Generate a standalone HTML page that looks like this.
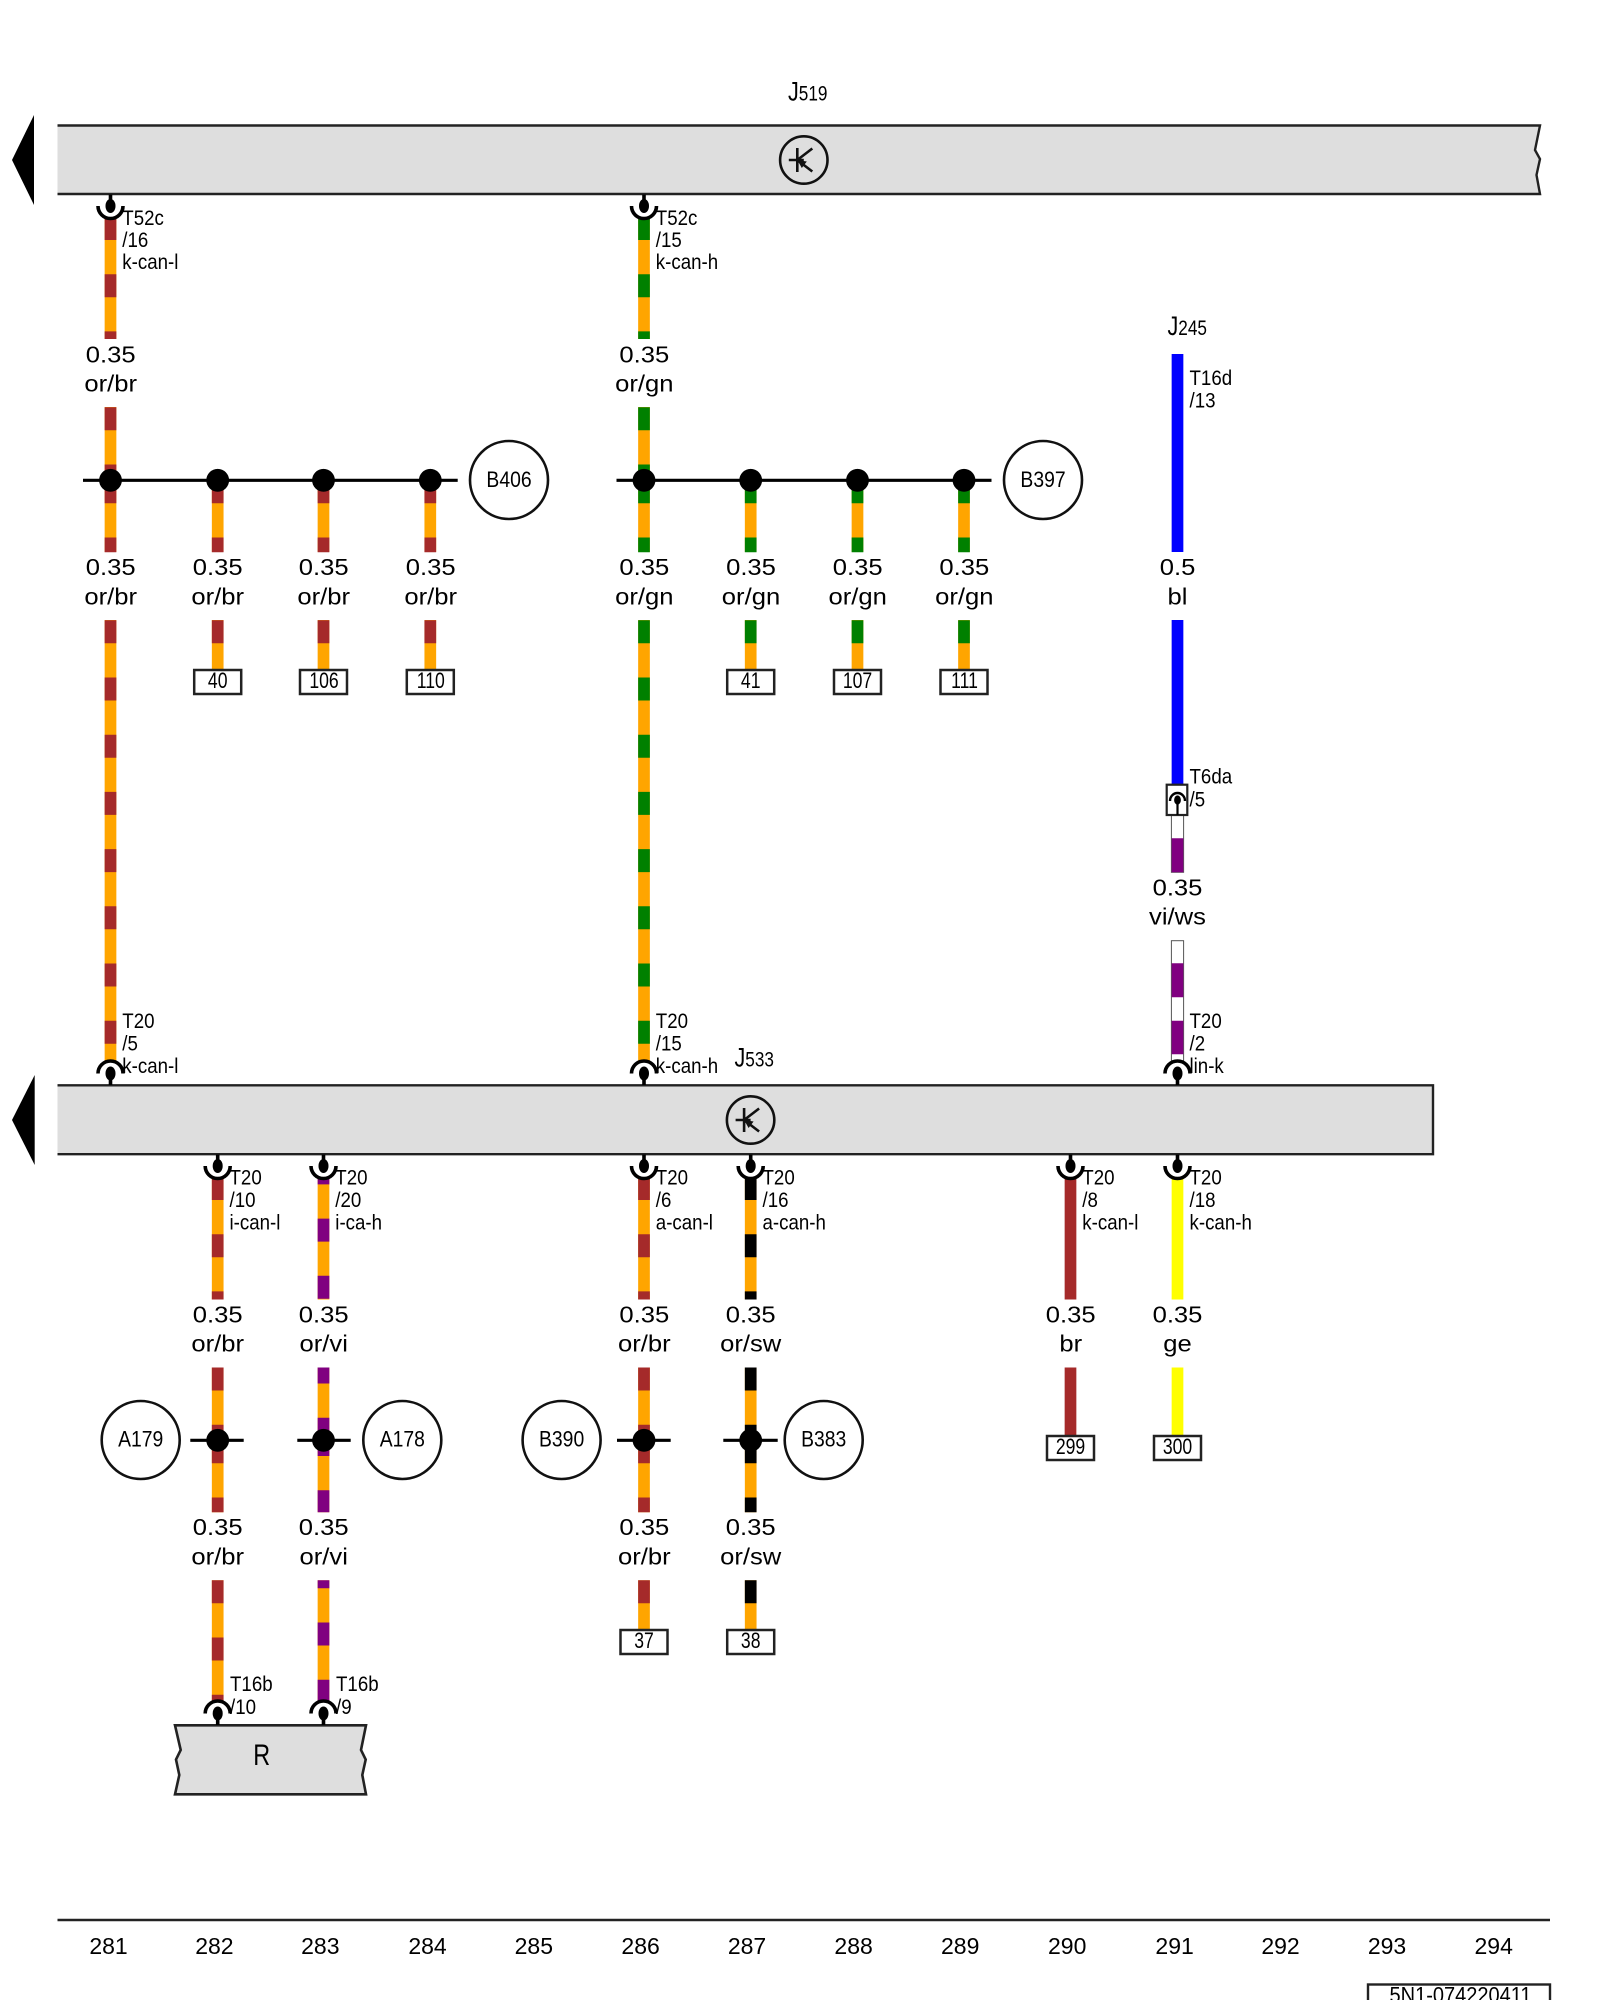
<!DOCTYPE html>
<html><head><meta charset="utf-8"><title>Wiring diagram</title>
<style>
html,body{margin:0;padding:0;background:#fff}
svg{display:block}
text{font-family:"Liberation Sans",sans-serif;fill:#000}
.s{font-size:21.5px}
.m{font-size:23.5px;text-anchor:middle}
.n{font-size:23px;text-anchor:middle}
.c{font-size:22px;text-anchor:middle}
.w{fill:none;stroke-width:11.7}
.d{stroke-dasharray:23 34.2}
.bar{fill:#dedede;stroke:none}
.edge{stroke:#222;stroke-width:2.4;fill:none}
.box{fill:#fff;stroke:#222;stroke-width:2.5}
.circ{fill:#fff;stroke:#111;stroke-width:2.6}
.jl{stroke:#000;stroke-width:3.2;fill:none}
</style></head>
<body>
<svg xmlns="http://www.w3.org/2000/svg" width="1600" height="2000" viewBox="0 0 1600 2000">
<defs>
<g id="c">
<path d="M0 0V14" stroke="#000" stroke-width="3.6" fill="none"/>
<ellipse cx="0" cy="11.5" rx="5" ry="7" fill="#000"/>
<path d="M-12.5 11.5A12.5 12.5 0 0 0 12.5 11.5" stroke="#000" stroke-width="3.6" fill="none"/>
</g>
<g id="t">
<circle cx="0" cy="0" r="23.7" fill="none" stroke="#111" stroke-width="2.6"/>
<path d="M-15 0H0M-6.5 -12V12M-6.5 0L8.5 -11.5M-6.5 0L8.5 11.5" stroke="#111" stroke-width="2.6" fill="none"/>
<path d="M-6.5 0L3 1.5L-2 8Z" fill="#111"/>
</g>
</defs>

<!-- top bar -->
<path d="M12 160L34 115V205Z" fill="#000"/>
<path class="bar" d="M57.5 125.5H1540L1535 150L1540 159L1536.5 175L1540 194H57.5Z"/>
<path class="edge" d="M57.5 125.5H1540L1535 150L1540 159L1536.5 175L1540 194H57.5"/>
<use href="#t" transform="translate(803.8 160)"/>
<g transform="translate(788 100.7) scale(.8 1)"><text class="s" font-size="22"><tspan style="font-size:27px">J</tspan>519</text></g>

<!-- middle bar -->
<path d="M12 1120L34.7 1075V1165Z" fill="#000"/>
<rect class="bar" x="57.5" y="1085.3" width="1375.5" height="68.9"/>
<path class="edge" d="M57.5 1085.3H1433V1154.2H57.5"/>
<use href="#t" transform="translate(750.6 1120)"/>
<g transform="translate(734.5 1066.5) scale(.8 1)"><text class="s"><tspan style="font-size:27px">J</tspan>533</text></g>
<g transform="translate(1167.5 335) scale(.8 1)"><text class="s"><tspan style="font-size:27px">J</tspan>245</text></g>

<!-- R bar -->
<path d="M175 1725.3H366L361 1750L365.7 1759.5L362.3 1775L366 1794.3H175L179.3 1775L176 1759.5L180.7 1750Z" fill="#dedede" stroke="#222" stroke-width="2.6"/>
<g transform="translate(261.7 1765) scale(.78 1)"><text font-size="30" text-anchor="middle">R</text></g>

<!-- wire bases -->
<path class="w" stroke="#ffa500" d="M110.5 217V339M110.5 407V552M110.5 620V1062M644 217V339M644 407V552M644 620V1062
M217.7 480V552M217.7 620V670M323.5 480V552M323.5 620V670M430.3 480V552M430.3 620V670
M750.7 480V552M750.7 620V670M857.5 480V552M857.5 620V670M964 480V552M964 620V670
M217.7 1177V1299.5M217.7 1367.5V1512.3M217.7 1580.3V1702
M323.5 1177V1299.5M323.5 1367.5V1512.3M323.5 1580.3V1702
M644 1177V1299.5M644 1367.5V1512.3M644 1580.3V1630
M750.7 1177V1299.5M750.7 1367.5V1512.3M750.7 1580.3V1630"/>

<!-- brown stripes -->
<path class="w d" stroke="#a52a2a" d="M110.5 217V339M110.5 407.3V480M110.5 480.3V552.3M110.5 620.3V1062
M217.7 480.3V552.3M217.7 620.3V670M323.5 480.3V552.3M323.5 620.3V670M430.3 480.3V552.3M430.3 620.3V670
M217.7 1177V1299.5M217.7 1367.5V1440M217.7 1440.3V1512.3M217.7 1580.3V1702
M644 1177V1299.5M644 1367.5V1440M644 1440.3V1512.3M644 1580.3V1630"/>
<!-- green stripes -->
<path class="w d" stroke="#008000" d="M644 217V339M644 407.3V480M644 480.3V552.3M644 620.3V1062
M750.7 480.3V552.3M750.7 620.3V670M857.5 480.3V552.3M857.5 620.3V670M964 480.3V552.3M964 620.3V670"/>
<!-- black stripes -->
<path class="w d" stroke="#000" d="M750.7 1177V1299.5M750.7 1367.5V1440M750.7 1440.3V1512.3M750.7 1580.3V1630"/>
<!-- purple stripes -->
<path class="w d" stroke="#800080" style="stroke-dashoffset:15.6" d="M323.5 1177V1299.5"/>
<path class="w d" stroke="#800080" style="stroke-dashoffset:7" d="M323.5 1367.5V1440"/>
<path class="w d" stroke="#800080" style="stroke-dashoffset:7.3" d="M323.5 1440.3V1512.3"/>
<path class="w d" stroke="#800080" style="stroke-dashoffset:15" d="M323.5 1580.3V1702"/>

<!-- solid wires -->
<path class="w" stroke="#0000ff" d="M1177.5 354V552M1177.5 620V785"/>
<path class="w" stroke="#a52a2a" d="M1070.5 1177V1299.5M1070.5 1367.5V1437"/>
<path class="w" stroke="#ffff00" d="M1177.5 1177V1299.5M1177.5 1367.5V1437"/>

<!-- vi/ws wires -->
<rect x="1171.4" y="815" width="12.2" height="57.3" fill="#fff" stroke="#555" stroke-width="1"/>
<path class="w" stroke="#800080" d="M1177.5 838.3V872.3"/>
<rect x="1171.4" y="940.7" width="12.2" height="121" fill="#fff" stroke="#555" stroke-width="1"/>
<path class="w" stroke="#800080" d="M1177.5 963.3V997.3M1177.5 1020.7V1054.3"/>

<!-- connectors -->
<use href="#c" transform="translate(110.5 194.5)"/>
<use href="#c" transform="translate(644 194.5)"/>
<use href="#c" transform="translate(110.5 1085) scale(1 -1)"/>
<use href="#c" transform="translate(644 1085) scale(1 -1)"/>
<use href="#c" transform="translate(1177.5 1085) scale(1 -1)"/>
<use href="#c" transform="translate(217.7 1154.5)"/>
<use href="#c" transform="translate(323.5 1154.5)"/>
<use href="#c" transform="translate(644 1154.5)"/>
<use href="#c" transform="translate(750.7 1154.5)"/>
<use href="#c" transform="translate(1070.5 1154.5)"/>
<use href="#c" transform="translate(1177.5 1154.5)"/>
<use href="#c" transform="translate(217.7 1725) scale(1 -1)"/>
<use href="#c" transform="translate(323.5 1725) scale(1 -1)"/>

<!-- T6da housing -->
<rect x="1166.7" y="784.7" width="20.6" height="30.3" fill="#fff" stroke="#222" stroke-width="2.2"/>
<path d="M1177.5 800V815" stroke="#000" stroke-width="2.2" fill="none"/>
<ellipse cx="1177.5" cy="800" rx="3.4" ry="4.6" fill="#000"/>
<path d="M1170 801A7.5 8 0 0 1 1185 801" stroke="#000" stroke-width="2.4" fill="none"/>

<!-- junctions -->
<path class="jl" d="M83 480.3H457.7M616.5 480.3H991.5M190.3 1440.3H243.7M297.3 1440.3H350.7M617 1440.3H670.7M723.3 1440.3H777.7"/>
<g fill="#000">
<circle cx="110.5" cy="480.3" r="11.4"/><circle cx="217.7" cy="480.3" r="11.4"/><circle cx="323.5" cy="480.3" r="11.4"/><circle cx="430.3" cy="480.3" r="11.4"/>
<circle cx="644" cy="480.3" r="11.4"/><circle cx="750.7" cy="480.3" r="11.4"/><circle cx="857.5" cy="480.3" r="11.4"/><circle cx="964" cy="480.3" r="11.4"/>
<circle cx="217.7" cy="1440.3" r="11.4"/><circle cx="323.5" cy="1440.3" r="11.4"/><circle cx="644" cy="1440.3" r="11.4"/><circle cx="750.7" cy="1440.3" r="11.4"/>
</g>

<!-- reference circles -->
<circle class="circ" cx="509" cy="480" r="39"/>
<circle class="circ" cx="1043" cy="480" r="39"/>
<circle class="circ" cx="140.7" cy="1440" r="39"/>
<circle class="circ" cx="402.3" cy="1440" r="39"/>
<circle class="circ" cx="561.6" cy="1440" r="39"/>
<circle class="circ" cx="823.7" cy="1440" r="39"/>
<g transform="translate(509 487) scale(.88 1)"><text class="c">B406</text></g>
<g transform="translate(1043 487) scale(.88 1)"><text class="c">B397</text></g>
<g transform="translate(140.7 1446.5) scale(.88 1)"><text class="c">A179</text></g>
<g transform="translate(402.3 1446.5) scale(.88 1)"><text class="c">A178</text></g>
<g transform="translate(561.6 1446.5) scale(.88 1)"><text class="c">B390</text></g>
<g transform="translate(823.7 1446.5) scale(.88 1)"><text class="c">B383</text></g>

<!-- terminal boxes -->
<rect class="box" x="194.2" y="670" width="47" height="24"/>
<rect class="box" x="300" y="670" width="47" height="24"/>
<rect class="box" x="406.8" y="670" width="47" height="24"/>
<rect class="box" x="727.2" y="670" width="47" height="24"/>
<rect class="box" x="834" y="670" width="47" height="24"/>
<rect class="box" x="940.5" y="670" width="47" height="24"/>
<rect class="box" x="620.5" y="1630" width="47" height="24"/>
<rect class="box" x="727.2" y="1630" width="47" height="24"/>
<rect class="box" x="1047" y="1436" width="47" height="24"/>
<rect class="box" x="1154" y="1436" width="47" height="24"/>
<g transform="translate(217.7 688) scale(.8 1)"><text class="c">40</text></g>
<g transform="translate(324 688) scale(.8 1)"><text class="c">106</text></g>
<g transform="translate(430.8 688) scale(.8 1)"><text class="c">110</text></g>
<g transform="translate(750.7 688) scale(.8 1)"><text class="c">41</text></g>
<g transform="translate(857.5 688) scale(.8 1)"><text class="c">107</text></g>
<g transform="translate(964.5 688) scale(.8 1)"><text class="c">111</text></g>
<g transform="translate(644 1648) scale(.8 1)"><text class="c">37</text></g>
<g transform="translate(750.7 1648) scale(.8 1)"><text class="c">38</text></g>
<g transform="translate(1070.5 1454) scale(.8 1)"><text class="c">299</text></g>
<g transform="translate(1177.5 1454) scale(.8 1)"><text class="c">300</text></g>

<!-- pin labels -->
<g transform="translate(122.3 225) scale(.87 1)"><text class="s">T52c</text><text class="s" y="22">/16</text><text class="s" y="44">k-can-l</text></g>
<g transform="translate(655.8 225) scale(.87 1)"><text class="s">T52c</text><text class="s" y="22">/15</text><text class="s" y="44">k-can-h</text></g>
<g transform="translate(1189.5 385) scale(.87 1)"><text class="s">T16d</text><text class="s" y="22.3">/13</text></g>
<g transform="translate(1189.5 783.3) scale(.87 1)"><text class="s">T6da</text><text class="s" y="23.3">/5</text></g>
<g transform="translate(122.3 1028) scale(.87 1)"><text class="s">T20</text><text class="s" y="22.5">/5</text><text class="s" y="45">k-can-l</text></g>
<g transform="translate(655.8 1028) scale(.87 1)"><text class="s">T20</text><text class="s" y="22.5">/15</text><text class="s" y="45">k-can-h</text></g>
<g transform="translate(1189.5 1028) scale(.87 1)"><text class="s">T20</text><text class="s" y="22.5">/2</text><text class="s" y="45">lin-k</text></g>
<g transform="translate(229.5 1184.5) scale(.87 1)"><text class="s">T20</text><text class="s" y="22.5">/10</text><text class="s" y="45">i-can-l</text></g>
<g transform="translate(335.3 1184.5) scale(.87 1)"><text class="s">T20</text><text class="s" y="22.5">/20</text><text class="s" y="45">i-ca-h</text></g>
<g transform="translate(655.8 1184.5) scale(.87 1)"><text class="s">T20</text><text class="s" y="22.5">/6</text><text class="s" y="45">a-can-l</text></g>
<g transform="translate(762.5 1184.5) scale(.87 1)"><text class="s">T20</text><text class="s" y="22.5">/16</text><text class="s" y="45">a-can-h</text></g>
<g transform="translate(1082.3 1184.5) scale(.87 1)"><text class="s">T20</text><text class="s" y="22.5">/8</text><text class="s" y="45">k-can-l</text></g>
<g transform="translate(1189.5 1184.5) scale(.87 1)"><text class="s">T20</text><text class="s" y="22.5">/18</text><text class="s" y="45">k-can-h</text></g>
<g transform="translate(230 1691) scale(.87 1)"><text class="s">T16b</text><text class="s" y="23">/10</text></g>
<g transform="translate(336 1691) scale(.87 1)"><text class="s">T16b</text><text class="s" y="23">/9</text></g>

<!-- wire gauge / colour labels -->
<g transform="translate(110.7 362.7) scale(1.09 1)"><text class="m">0.35</text><text class="m" y="28.6">or/br</text></g>
<g transform="translate(644.3 362.7) scale(1.09 1)"><text class="m">0.35</text><text class="m" y="28.6">or/gn</text></g>

<g transform="translate(110.7 575) scale(1.09 1)"><text class="m">0.35</text><text class="m" y="29.3">or/br</text></g>
<g transform="translate(217.7 575) scale(1.09 1)"><text class="m">0.35</text><text class="m" y="29.3">or/br</text></g>
<g transform="translate(323.7 575) scale(1.09 1)"><text class="m">0.35</text><text class="m" y="29.3">or/br</text></g>
<g transform="translate(430.7 575) scale(1.09 1)"><text class="m">0.35</text><text class="m" y="29.3">or/br</text></g>
<g transform="translate(644.3 575) scale(1.09 1)"><text class="m">0.35</text><text class="m" y="29.3">or/gn</text></g>
<g transform="translate(751 575) scale(1.09 1)"><text class="m">0.35</text><text class="m" y="29.3">or/gn</text></g>
<g transform="translate(857.7 575) scale(1.09 1)"><text class="m">0.35</text><text class="m" y="29.3">or/gn</text></g>
<g transform="translate(964.3 575) scale(1.09 1)"><text class="m">0.35</text><text class="m" y="29.3">or/gn</text></g>
<g transform="translate(1177.5 575) scale(1.09 1)"><text class="m">0.5</text><text class="m" y="29.3">bl</text></g>
<g transform="translate(1177.5 895.7) scale(1.09 1)"><text class="m">0.35</text><text class="m" y="29">vi/ws</text></g>

<g transform="translate(217.7 1322.7) scale(1.09 1)"><text class="m">0.35</text><text class="m" y="29">or/br</text></g>
<g transform="translate(323.7 1322.7) scale(1.09 1)"><text class="m">0.35</text><text class="m" y="29">or/vi</text></g>
<g transform="translate(644.3 1322.7) scale(1.09 1)"><text class="m">0.35</text><text class="m" y="29">or/br</text></g>
<g transform="translate(750.7 1322.7) scale(1.09 1)"><text class="m">0.35</text><text class="m" y="29">or/sw</text></g>
<g transform="translate(1070.7 1322.7) scale(1.09 1)"><text class="m">0.35</text><text class="m" y="29">br</text></g>
<g transform="translate(1177.5 1322.7) scale(1.09 1)"><text class="m">0.35</text><text class="m" y="29">ge</text></g>

<g transform="translate(217.7 1535) scale(1.09 1)"><text class="m">0.35</text><text class="m" y="29.3">or/br</text></g>
<g transform="translate(323.7 1535) scale(1.09 1)"><text class="m">0.35</text><text class="m" y="29.3">or/vi</text></g>
<g transform="translate(644.3 1535) scale(1.09 1)"><text class="m">0.35</text><text class="m" y="29.3">or/br</text></g>
<g transform="translate(750.7 1535) scale(1.09 1)"><text class="m">0.35</text><text class="m" y="29.3">or/sw</text></g>

<!-- footer -->
<path d="M57.5 1920H1550" stroke="#222" stroke-width="2.4" fill="none"/>
<text class="n" x="108.5" y="1954">281</text>
<text class="n" x="214.4" y="1954">282</text>
<text class="n" x="320.3" y="1954">283</text>
<text class="n" x="427.5" y="1954">284</text>
<text class="n" x="533.8" y="1954">285</text>
<text class="n" x="640.6" y="1954">286</text>
<text class="n" x="747" y="1954">287</text>
<text class="n" x="853.6" y="1954">288</text>
<text class="n" x="960.2" y="1954">289</text>
<text class="n" x="1067.2" y="1954">290</text>
<text class="n" x="1174.6" y="1954">291</text>
<text class="n" x="1280.5" y="1954">292</text>
<text class="n" x="1387" y="1954">293</text>
<text class="n" x="1493.7" y="1954">294</text>
<rect x="1368" y="1984.5" width="182" height="40" fill="#fff" stroke="#222" stroke-width="2.4"/>
<g transform="translate(1460.5 2002.5) scale(.91 1)"><text class="c">5N1-074220411</text></g>
</svg>
</body></html>
